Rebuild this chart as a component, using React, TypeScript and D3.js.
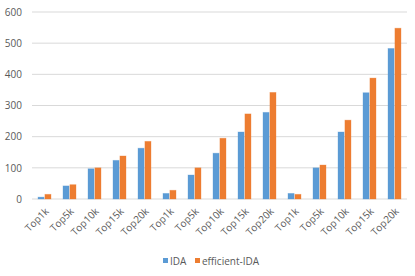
import * as d3 from 'd3';
import { useEffect, useRef } from 'react';

const categories = [
  'Top1k', 'Top5k', 'Top10k', 'Top15k', 'Top20k',
  'Top1k', 'Top5k', 'Top10k', 'Top15k', 'Top20k',
  'Top1k', 'Top5k', 'Top10k', 'Top15k', 'Top20k',
];
const idaValues = [6, 42, 97, 124, 163, 18, 77, 147, 215, 278, 18, 100, 215, 341, 483];
const efficientIdaValues = [15, 46, 100, 138, 185, 28, 100, 195, 273, 342, 15, 109, 253, 388, 548];
const seriesNames = ['IDA', 'efficient-IDA'];
const yTicks = [0, 100, 200, 300, 400, 500, 600];

const colors = ['#5B9BD5', '#ED7D31'];
const font = 'Open Sans, sans-serif';

function App() {
  const svgRef = useRef<SVGSVGElement | null>(null);

  useEffect(() => {
    if (!svgRef.current) return;
    const svg = d3.select(svgRef.current);
    svg.selectAll('*').remove();

    const width = 415;
    const height = 276;
    const margin = { top: 12, right: 8, bottom: 77, left: 32 };
    const innerW = width - margin.left - margin.right;
    const innerH = height - margin.top - margin.bottom;

    const keys = categories.map((c, i) => `${i}-${c}`);
    const x = d3.scaleBand().domain(keys).range([0, innerW]).paddingInner(0).paddingOuter(0);
    const x1 = d3.scaleBand().domain(seriesNames).range([x.bandwidth() / 2 - 6.5, x.bandwidth() / 2 + 6.5]).paddingInner(0.12);
    const y = d3.scaleLinear().domain([0, 600]).range([innerH, 0]);

    const g = svg.append('g').attr('transform', `translate(${margin.left},${margin.top})`);

    // grid
    g.selectAll('.grid')
      .data(yTicks)
      .enter().append('line')
      .attr('x1', 0).attr('x2', innerW)
      .attr('y1', d => y(d)).attr('y2', d => y(d))
      .attr('stroke', '#d9d9d9')
      .attr('stroke-width', 1);

    const yAxis = g.append('g')
      .call(d3.axisLeft(y).tickValues(yTicks).tickSize(0).tickPadding(10));
    yAxis.select('.domain').remove();
    yAxis.selectAll('.tick text')
      .attr('fill', '#595959')
      .attr('font-size', '10px')
      .attr('font-family', font);

    const series = [idaValues, efficientIdaValues];
    series.forEach((vals, si) => {
      g.selectAll(`.bar-${si}`)
        .data(vals)
        .enter().append('rect')
        .attr('x', (d, i) => (x(keys[i]) ?? 0) + (x1(seriesNames[si]) ?? 0))
        .attr('y', d => y(d))
        .attr('width', x1.bandwidth())
        .attr('height', d => innerH - y(d))
        .attr('fill', colors[si])
        .attr('stroke', colors[si])
        .attr('stroke-opacity', 0.4)
        .attr('stroke-width', 0.8);
    });

    const xAxis = g.append('g')
      .attr('transform', `translate(0,${innerH})`)
      .call(d3.axisBottom(x).tickSize(0).tickFormat((d, i) => categories[i]));
    xAxis.select('.domain').remove();
    xAxis.selectAll('.tick text')
      .attr('fill', '#595959')
      .attr('font-size', '10px')
      .attr('font-family', font)
      .attr('text-anchor', 'end')
      .attr('dy', null)
      .attr('y', 0)
      .attr('transform', 'translate(5,13) rotate(-45)');

    // legend
    const legend = svg.append('g').attr('transform', 'translate(163,261)');
    const legendX = [0, 32];
    seriesNames.forEach((name, i) => {
      legend.append('rect')
        .attr('x', legendX[i]).attr('y', -3)
        .attr('width', 5).attr('height', 5)
        .attr('fill', colors[i]);
      legend.append('text')
        .attr('x', legendX[i] + 7).attr('y', 0)
        .attr('dy', '0.35em')
        .attr('fill', '#595959')
        .attr('font-size', '10px')
        .attr('font-family', font)
        .text(name);
    });
  }, []);

  return (
    <svg
      ref={svgRef}
      width={415}
      height={276}
      style={{ position: 'absolute', left: 0, top: 0, background: '#fff' }}
    />
  );
}

export default App;
